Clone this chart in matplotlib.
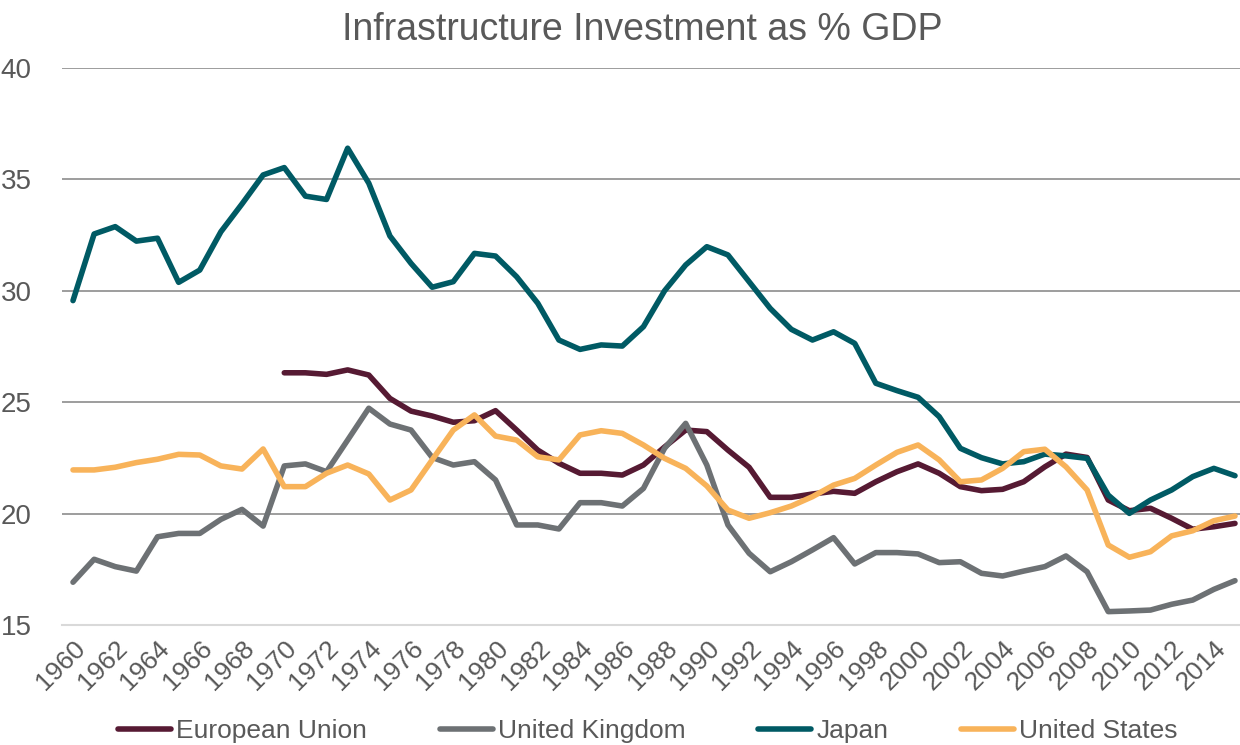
import matplotlib
matplotlib.use("Agg")
import matplotlib.pyplot as plt

years = list(range(1960, 2016))

japan = [29.56, 32.55, 32.88, 32.23, 32.36, 30.38, 30.93, 32.65, 33.90, 35.20,
         35.53, 34.25, 34.10, 36.40, 34.83, 32.46, 31.23, 30.16, 30.41, 31.68,
         31.56, 30.63, 29.44, 27.79, 27.37, 27.57, 27.52, 28.39, 30.00, 31.16,
         31.98, 31.61, 30.41, 29.21, 28.27, 27.79, 28.16, 27.64, 25.85, 25.52,
         25.22, 24.35, 22.93, 22.51, 22.23, 22.33, 22.67, 22.59, 22.48, 20.83,
         20.01, 20.61, 21.06, 21.66, 22.03, 21.70]

eu_years = list(range(1970, 2016))
eu = [26.32, 26.32, 26.25, 26.45, 26.22, 25.17, 24.60, 24.38, 24.10, 24.17,
      24.62, 23.75, 22.85, 22.26, 21.81, 21.81, 21.73, 22.18, 22.99, 23.75,
      23.68, 22.85, 22.08, 20.73, 20.73, 20.88, 21.00, 20.91, 21.43, 21.88,
      22.23, 21.81, 21.21, 21.03, 21.09, 21.43, 22.10, 22.67, 22.52, 20.61,
      20.13, 20.24, 19.79, 19.30, 19.41, 19.56]

us = [21.96, 21.96, 22.08, 22.29, 22.44, 22.66, 22.63, 22.14, 22.00, 22.90,
      21.21, 21.21, 21.81, 22.18, 21.78, 20.61, 21.06, 22.41, 23.75, 24.43,
      23.48, 23.30, 22.55, 22.41, 23.53, 23.72, 23.60, 23.08, 22.48, 22.03,
      21.24, 20.16, 19.79, 20.04, 20.34, 20.76, 21.28, 21.58, 22.18, 22.75,
      23.08, 22.41, 21.43, 21.51, 22.03, 22.78, 22.89, 22.10, 21.06, 18.59,
      18.04, 18.29, 19.00, 19.23, 19.68, 19.89]

uk = [16.92, 17.95, 17.62, 17.42, 18.96, 19.11, 19.11, 19.74, 20.19, 19.44,
      22.14, 22.23, 21.88, 23.30, 24.73, 24.02, 23.75, 22.52, 22.18, 22.33,
      21.51, 19.49, 19.49, 19.31, 20.49, 20.49, 20.34, 21.13, 22.93, 24.05,
      22.18, 19.49, 18.22, 17.39, 17.84, 18.37, 18.92, 17.74, 18.25, 18.25,
      18.19, 17.80, 17.84, 17.32, 17.20, 17.42, 17.62, 18.10, 17.39, 15.60,
      15.63, 15.67, 15.93, 16.12, 16.60, 16.99]

series_names = ["European Union", "United Kingdom", "Japan", "United States"]
colors = ["#561A33", "#6D7174", "#005A64", "#F8B35A"]
xtick_years = list(range(1960, 2015, 2))
yticks = [15, 20, 25, 30, 35, 40]
title = "Infrastructure Investment as % GDP"

plt.rcParams["font.family"] = ["Liberation Sans", "DejaVu Sans"]
txt = "#595959"

fig = plt.figure(figsize=(12.4, 7.45), dpi=100)
ax = fig.add_axes([62 / 1240, 1 - 625 / 745, 1 - 62 / 1240, (625 - 68) / 745])

data = [(eu_years, eu), (years, uk), (years, japan), (years, us)]
for (xs, ys), name, c in zip(data, series_names, colors):
    ax.plot(xs, ys, color=c, lw=4.0, label=name, solid_joinstyle="round",
            solid_capstyle="round")

ax.set_xlim(1960 - 11 / 21.13, 2015 + 5 / 21.13)
ax.set_ylim(15, 40)
ax.set_yticks(yticks)
ax.set_yticklabels([str(v) for v in yticks], fontsize=20, color=txt)
ax.set_xticks(xtick_years)
ax.set_xticklabels([str(y) for y in xtick_years], rotation=45, ha="right",
                   va="top", rotation_mode="anchor", fontsize=19, color=txt)
ax.tick_params(axis="both", length=0)
ax.tick_params(axis="y", pad=22)
ax.tick_params(axis="x", pad=8)
ax.grid(axis="y", color="#8C8C8C", lw=1.2)
ax.set_axisbelow(True)
for s in ["top", "right", "left"]:
    ax.spines[s].set_visible(False)
ax.spines["bottom"].set_color("#D9D9D9")
ax.spines["bottom"].set_linewidth(1.5)

fig.text(0.518, 1 - 30 / 745, title, ha="center", va="center", fontsize=27, color=txt)

leg = fig.legend(loc="center", bbox_to_anchor=(0.5225, 1 - 731 / 745),
                 ncol=4, frameon=False, fontsize=19, handlelength=2.0,
                 handletextpad=0.2, columnspacing=2.75, labelcolor=txt)
for h in leg.get_lines():
    h.set_linewidth(4.0)

fig.savefig("out.png", dpi=100)
